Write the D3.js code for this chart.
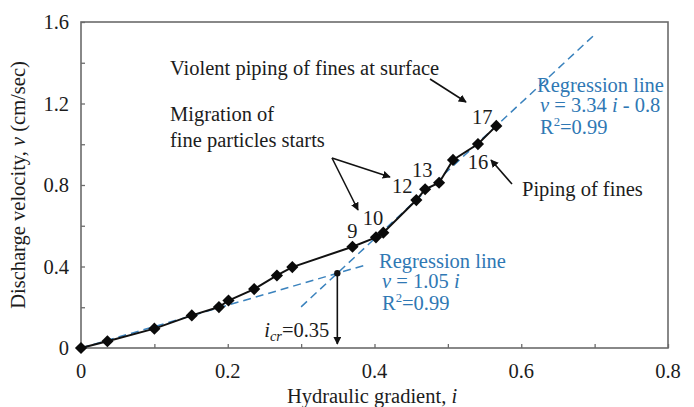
<!DOCTYPE html>
<html>
<head>
<meta charset="utf-8">
<script src="https://cdn.jsdelivr.net/npm/d3@7"></script>
<style>
  html, body { margin: 0; padding: 0; background: #fff; }
  svg { display: block; font-family: "Liberation Serif", "Times New Roman", serif; }
</style>
</head>
<body>
<svg id="chart" width="694" height="407"></svg>
<script>
// Measured seepage test: hydraulic gradient vs discharge velocity
const gradient = [0, 0.036, 0.100, 0.151, 0.188, 0.201, 0.236, 0.267, 0.288, 0.370, 0.402, 0.412, 0.457, 0.469, 0.488, 0.507, 0.541, 0.566];
const velocity = [0, 0.033, 0.095, 0.160, 0.201, 0.233, 0.289, 0.356, 0.397, 0.497, 0.543, 0.566, 0.726, 0.779, 0.811, 0.923, 1.001, 1.090];
const labelledSteps = [9, 10, 12, 13, 16, 17];

// Regression fits (slope, intercept) and the range of i each is drawn over
const fitLow = { slope: 1.05, intercept: 0, from: 0, to: 0.39 };
const fitHigh = { slope: 3.34, intercept: -0.8, from: 0.30, to: 0.70 };

const xTicks = [0, 0.2, 0.4, 0.6, 0.8];
const yTicks = [0, 0.4, 0.8, 1.2, 1.6];

const W = 694, H = 407;
const margin = { left: 81, top: 22, right: 26, bottom: 59 };
const svg = d3.select("#chart");

const x = d3.scaleLinear().domain([0, 0.8]).range([margin.left, W - margin.right]);
const y = d3.scaleLinear().domain([0, 1.6]).range([H - margin.bottom, margin.top]);

const BLUE = "#2f78b4";
const INK = "#1c1c1c";
const FS = 20.5;

// arrow marker
const defs = svg.append("defs");
defs.append("marker").attr("id", "arr").attr("viewBox", "0 0 10 10")
  .attr("refX", 9).attr("refY", 5).attr("markerWidth", 5).attr("markerHeight", 5)
  .attr("orient", "auto-start-reverse")
  .append("path").attr("d", "M0,0 L10,5 L0,10 z").attr("fill", "#111");

// frame
svg.append("rect").attr("x", x(0)).attr("y", y(1.6))
  .attr("width", x(0.8) - x(0)).attr("height", y(0) - y(1.6))
  .attr("fill", "none").attr("stroke", "#6b6b6b").attr("stroke-width", 1.6);

// axes with inward ticks
const xAxis = d3.axisBottom(x).tickValues(d3.range(0, 0.81, 0.1)).tickSize(-4).tickFormat("");
const yAxis = d3.axisLeft(y).tickValues(d3.range(0, 1.61, 0.2)).tickSize(-4).tickFormat("");
svg.append("g").attr("transform", `translate(0,${y(0)})`).call(xAxis)
  .call(g => g.select(".domain").remove())
  .call(g => g.selectAll("line").attr("stroke", "#6b6b6b").attr("stroke-width", 1.3));
svg.append("g").attr("transform", `translate(${x(0)},0)`).call(yAxis)
  .call(g => g.select(".domain").remove())
  .call(g => g.selectAll("line").attr("stroke", "#6b6b6b").attr("stroke-width", 1.3));

// tick labels
svg.append("g").selectAll("text").data(xTicks).join("text")
  .attr("x", d => x(d)).attr("y", y(0) + 30).attr("text-anchor", "middle")
  .attr("font-size", FS).attr("fill", INK).text(d => d === 0 ? "0" : d.toFixed(1));
svg.append("g").selectAll("text").data(yTicks).join("text")
  .attr("x", x(0) - 12).attr("y", d => y(d) + 7).attr("text-anchor", "end")
  .attr("font-size", FS).attr("fill", INK).text(d => d === 0 ? "0" : d.toFixed(1));

// axis titles
const xt = svg.append("text").attr("x", 372).attr("y", H - 4)
  .attr("text-anchor", "middle").attr("font-size", FS).attr("fill", INK);
xt.append("tspan").text("Hydraulic gradient, ");
xt.append("tspan").attr("font-style", "italic").text("i");

const yt = svg.append("text")
  .attr("transform", `translate(25,${(y(0) + y(1.6)) / 2}) rotate(-90)`)
  .attr("text-anchor", "middle").attr("font-size", FS).attr("fill", INK);
yt.append("tspan").text("Discharge velocity, ");
yt.append("tspan").attr("font-style", "italic").text("v");
yt.append("tspan").text(" (cm/sec)");

// regression lines
[fitLow, fitHigh].forEach(f => {
  const pts = [f.from, f.to].map(i => [x(i), y(f.slope * i + f.intercept)]);
  svg.append("path").attr("d", d3.line()(pts))
    .attr("fill", "none").attr("stroke", "#3a82bd").attr("stroke-width", 1.5)
    .attr("stroke-dasharray", "8,5");
});

// measured curve
const data = gradient.map((g, k) => ({ i: g, v: velocity[k], n: k }));
svg.append("path").datum(data)
  .attr("d", d3.line().x(d => x(d.i)).y(d => y(d.v)))
  .attr("fill", "none").attr("stroke", "#111").attr("stroke-width", 2);
// diamond markers: squares turned by 45 degrees
svg.append("g").selectAll("path").data(data).join("path")
  .attr("transform", d => `translate(${x(d.i)},${y(d.v)}) rotate(45)`)
  .attr("d", d3.symbol(d3.symbolSquare, 74)())
  .attr("fill", "#0a0a0a");

// step numbers
const stepOffset = { 9: [0, -9], 10: [-3, -12], 12: [-14, -7], 13: [-3, -12], 16: [0, 25], 17: [-14, -2] };
svg.append("g").selectAll("text").data(data.filter(d => labelledSteps.includes(d.n))).join("text")
  .attr("x", d => x(d.i) + stepOffset[d.n][0]).attr("y", d => y(d.v) + stepOffset[d.n][1])
  .attr("text-anchor", "middle").attr("font-size", FS).attr("fill", INK).text(d => d.n);

// critical gradient: intersection of both fits
const iCr = (fitHigh.intercept - fitLow.intercept) / (fitLow.slope - fitHigh.slope);
const vCr = fitLow.slope * iCr + fitLow.intercept;
svg.append("circle").attr("cx", x(iCr)).attr("cy", y(vCr)).attr("r", 3.2).attr("fill", "#111");
svg.append("line").attr("x1", x(iCr)).attr("y1", y(vCr)).attr("x2", x(iCr)).attr("y2", y(0) - 4)
  .attr("stroke", "#111").attr("stroke-width", 1.6).attr("marker-end", "url(#arr)");
const ic = svg.append("text").attr("x", x(iCr) - 8).attr("y", y(0) - 11)
  .attr("text-anchor", "end").attr("font-size", FS).attr("fill", INK);
ic.append("tspan").attr("font-style", "italic").text("i");
ic.append("tspan").attr("font-style", "italic").attr("font-size", FS * 0.7).attr("dy", 4).text("cr");
ic.append("tspan").attr("dy", -4).text("=0.35");

// regression captions
function caption(px, py, eq) {
  const g = svg.append("g").attr("fill", BLUE).attr("font-size", FS);
  g.append("text").attr("x", px).attr("y", py).text("Regression line");
  const e = g.append("text").attr("x", px + 3).attr("y", py + 20);
  eq.forEach(p => e.append("tspan").attr("font-style", p[1] ? "italic" : null).text(p[0]));
  const r = g.append("text").attr("x", px + 3).attr("y", py + 42);
  r.append("tspan").text("R");
  r.append("tspan").attr("font-size", FS * 0.62).attr("dy", -8).text("2");
  r.append("tspan").attr("dy", 8).text("=0.99");
}
caption(537, 92, [["v", true], [" = 3.34 ", false], ["i", true], [" - 0.8", false]]);
caption(379, 268, [["v", true], [" = 1.05 ", false], ["i", true]]);

// annotations
function note(lines, px, py) {
  const t = svg.append("text").attr("font-size", FS).attr("fill", INK);
  lines.forEach((s, k) => t.append("tspan").attr("x", px).attr("y", py + k * 26).text(s));
}
note(["Violent piping of fines at surface"], 170, 75);
note(["Migration of", "fine particles starts"], 170, 121);
note(["Piping of fines"], 522, 196);

function arrow(x1, y1, x2, y2) {
  svg.append("line").attr("x1", x1).attr("y1", y1).attr("x2", x2).attr("y2", y2)
    .attr("stroke", "#111").attr("stroke-width", 1.6).attr("marker-end", "url(#arr)");
}
arrow(430, 79, 466, 102);
arrow(332, 158, 390, 177);
arrow(332, 158, 358, 210);
arrow(512, 184, 491, 160);
</script>
</body>
</html>
